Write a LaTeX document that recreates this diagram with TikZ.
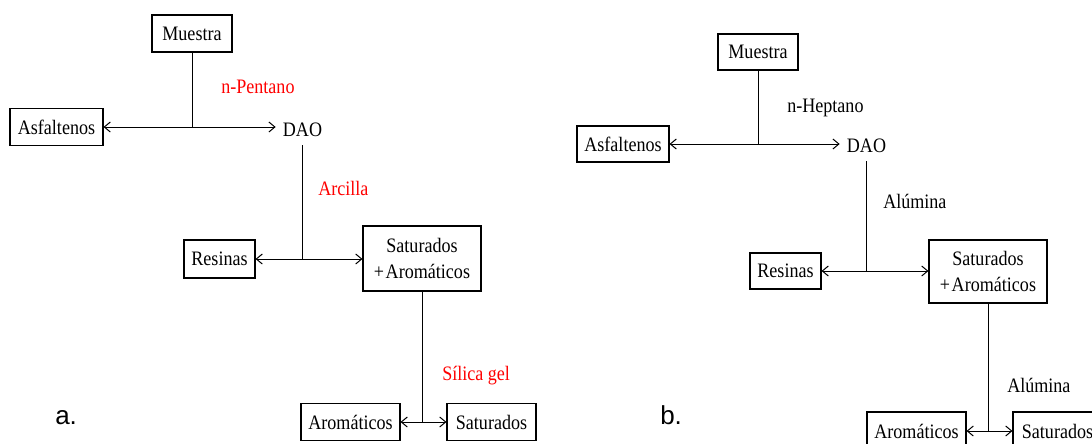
\documentclass[tikz,border=0pt]{standalone}
\usepackage{fontspec}
\setmainfont[FakeStretch=0.88]{Liberation Serif}
\newfontfamily\panelsans{Liberation Sans}
\usetikzlibrary{arrows.meta}
\definecolor{labred}{RGB}{255,0,0}
\begin{document}
\begin{tikzpicture}[x=0.75pt,y=-0.75pt,
  every node/.style={font=\fontsize{15.4}{19.5}\selectfont},
  box/.style={draw, line width=0.8pt, inner sep=0pt, align=center},
  conn/.style={line width=0.75pt},
  arr/.style={conn, -{Straight Barb[length=4.5pt,width=7.5pt]}},
  lbl/.style={anchor=base west, inner sep=0pt},
  redlbl/.style={lbl, text=labred},
  daotext/.style={anchor=base, inner xsep=5.25pt, inner ysep=6.75pt},
  panel/.style={anchor=base west, inner sep=0pt, font=\panelsans\fontsize{19.5}{22}\selectfont}]
\useasboundingbox (0,0) rectangle (1092,443);
\clip (0,0) rectangle (1092,443);

% ---------------- panel a ----------------
\node[box, minimum width=60pt, minimum height=27.75pt] (muA) at (192,33.5) {Muestra};
\node[box, minimum width=69.75pt, minimum height=27.75pt] (asfA) at (56.5,127) {Asfaltenos};
\node[daotext] (daoA) at (302.5,136) {DAO};
\coordinate (jA1) at (192,127);
\node[box, minimum width=53.25pt, minimum height=28.5pt] (resA) at (219.5,259) {Resinas};
\node[box, minimum width=88.5pt, minimum height=48.75pt] (saA) at (422,258.5) {Saturados\\+\kern1.2pt Aromáticos};
\coordinate (jA2) at (302.5,259);
\node[box, minimum width=74.25pt, minimum height=27.75pt] (aroA) at (350.5,422) {Aromáticos};
\node[box, minimum width=66.75pt, minimum height=27.75pt] (satA) at (491.5,422) {Saturados};
\coordinate (jA3) at (422,422);

\draw[conn] (muA.south) -- (jA1);
\draw[arr] (jA1) -- (asfA.east);
\draw[arr] (jA1) -- (daoA.west |- jA1);
\draw[conn] (daoA.south) -- (jA2);
\draw[arr] (jA2) -- (resA.east);
\draw[arr] (jA2) -- (saA.west |- jA2);
\draw[conn] (saA.south) -- (jA3);
\draw[arr] (jA3) -- (aroA.east);
\draw[arr] (jA3) -- (satA.west);

\node[redlbl] (pentA) at (221,93) {n-Pentano};
\node[redlbl] (arcA) at (318,195) {Arcilla};
\node[redlbl] (silA) at (442,380) {Sílica gel};
\node[panel] (pa) at (55,424) {a.};

% ---------------- panel b ----------------
\node[box, minimum width=60pt, minimum height=27pt] (muB) at (758,52) {Muestra};
\node[box, minimum width=69pt, minimum height=27pt] (asfB) at (623,144) {Asfaltenos};
\node[daotext] (daoB) at (866.5,152) {DAO};
\coordinate (jB1) at (758,144);
\node[box, minimum width=53.25pt, minimum height=27pt] (resB) at (785.5,271) {Resinas};
\node[box, minimum width=88.5pt, minimum height=47.25pt] (saB) at (988,271.5) {Saturados\\+\kern1.2pt Aromáticos};
\coordinate (jB2) at (866.5,271);
\node[box, minimum width=74.25pt, minimum height=28.5pt] (aroB) at (916.5,431) {Aromáticos};
\node[box, minimum width=66.75pt, minimum height=28.5pt] (satB) at (1057.5,431) {Saturados};
\coordinate (jB3) at (988,431);

\draw[conn] (muB.south) -- (jB1);
\draw[arr] (jB1) -- (asfB.east);
\draw[arr] (jB1) -- (daoB.west |- jB1);
\draw[conn] (daoB.south) -- (jB2);
\draw[arr] (jB2) -- (resB.east);
\draw[arr] (jB2) -- (saB.west |- jB2);
\draw[conn] (saB.south) -- (jB3);
\draw[arr] (jB3) -- (aroB.east);
\draw[arr] (jB3) -- (satB.west);

\node[lbl] (heptB) at (787,112) {n-Heptano};
\node[lbl] (aluB1) at (883,208) {Alúmina};
\node[lbl] (aluB2) at (1007,392) {Alúmina};
\node[panel] (pb) at (660,424) {b.};
\end{tikzpicture}
\end{document}
